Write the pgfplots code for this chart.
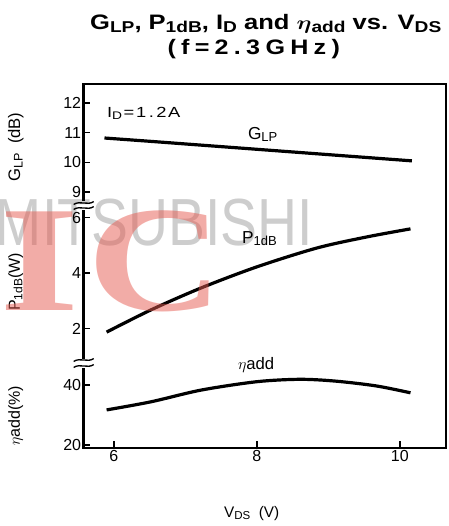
\documentclass[border=0pt]{standalone}
\usepackage{fontspec}
\setmainfont{Liberation Sans}
\newfontfamily\wmserif{Liberation Serif}
\usepackage{graphicx}
\usepackage{pgfplots}
\pgfplotsset{compat=1.18}
\newcommand{\sub}[1]{\raisebox{-0.3ex}{\scalebox{0.75}{#1}}}
\definecolor{wmgray}{RGB}{205,205,205}
\definecolor{wmpink}{RGB}{230,90,80}

\pgfplotsset{
  brk/.style={
    scale only axis, width=271.5pt,
    xmin=5.58, xmax=10.643,
    axis line style={draw=none},
    tick align=inside,
    major tick length=5pt,
    every tick/.style={black, line width=1.2pt},
    ytick pos=left, xtick pos=bottom,
    tick label style={font=\fontsize{12}{14}\selectfont, inner sep=1.8pt},
    /pgf/number format/assume math mode=true,
  },
  crv/.style={black, line width=2.4pt, smooth, mark=none},
}

\begin{document}
\begin{tikzpicture}
\begin{scope}[x=0.75pt, y=-0.75pt]
  \path[use as bounding box] (0,0) rectangle (448,526);
  \node[anchor=base west, inner sep=0, text=wmgray, font=\fontsize{50}{50}\selectfont]
    at (-5,245) {\scalebox{0.83}[1]{MITSUBISHI}};
  % frame as filled bars, left side broken
  \fill[black] (82,83) rectangle (446,85);
  \fill[black] (444,83) rectangle (446,449);
  \fill[black] (81.5,446.5) rectangle (446,449);
  \fill[black] (81.5,83) rectangle (84.5,201);
  \fill[black] (81.5,210) rectangle (84.5,359);
  \fill[black] (81.5,368) rectangle (84.5,449);
\end{scope}

% G_LP (dB)
\begin{axis}[brk, at={(62.25pt,-63pt)}, anchor=north west, height=90.75pt,
  ymin=8.562, ymax=12.64, ytick={9,10,11,12}, xtick=\empty]
\addplot[crv] coordinates {(5.87,10.82) (6.5,10.71) (7.0,10.62) (7.5,10.53) (8.0,10.44)
  (8.5,10.35) (9.0,10.26) (9.5,10.17) (10.17,10.05)};
\end{axis}

% P1dB (W)
\begin{axis}[brk, at={(62.25pt,-153.75pt)}, anchor=north west, height=119.25pt,
  ymin=0.721, ymax=6.45, ytick={2,4,6}, xtick=\empty]
\addplot[crv] coordinates {(5.9,1.87) (6.52,2.67) (7.22,3.46) (8.0,4.22) (8.84,4.90)
  (9.54,5.30) (10.15,5.59)};
\end{axis}

% eta add (%)
\begin{axis}[brk, at={(62.25pt,-273pt)}, anchor=north west, height=63pt,
  ymin=19, ymax=47, ytick={20,40}, xtick={6,8,10}]
\addplot[crv] coordinates {(5.9,31.7) (6.52,34.4) (7.22,38.3) (8.0,41.1) (8.6,41.9)
  (9.1,41.3) (9.67,39.7) (10.15,37.4)};
\end{axis}

\begin{scope}[x=0.75pt, y=-0.75pt]
  % break marks
  \draw[black, line width=1pt] (73,204.5) .. controls (79,200) and (87,206) .. (93,201.5);
  \draw[black, line width=1pt] (73,209.5) .. controls (79,205) and (87,211) .. (93,206.5);
  \draw[black, line width=1pt] (73,361.5) .. controls (79,357) and (87,363) .. (93,358.5);
  \draw[black, line width=1pt] (73,367.5) .. controls (79,363) and (87,369) .. (93,364.5);
  % texts
  \node[anchor=base, inner sep=0, font=\bfseries\fontsize{15.7}{18}\selectfont]
    at (265,29) {\scalebox{1.22}[1]{G\sub{LP}, P\sub{1dB}, I\sub{D} and {\boldmath$\eta$}\sub{add} vs. V\sub{DS}}};
  \node[anchor=base, inner sep=0, font=\bfseries\fontsize{15.7}{18}\selectfont]
    at (253,54) {\scalebox{1.2}[1]{(\kern3.3pt f\kern3.3pt=\kern3.3pt 2\kern3.3pt.\kern3.3pt 3\kern3.3pt G\kern3.3pt H\kern3.3pt z\kern3.3pt)}};
  \node[anchor=base west, inner sep=0, font=\fontsize{11}{13}\selectfont]
    at (106,117) {\scalebox{1.25}[1]{I\sub{D}\kern1pt=\kern1pt1\kern1.5pt.\kern1.5pt2\kern1pt A}};
  \node[anchor=base west, inner sep=0, font=\fontsize{13}{15}\selectfont]
    at (247,139) {G\sub{LP}};
  \node[anchor=base west, inner sep=0, font=\fontsize{13}{15}\selectfont]
    at (241,243) {P\sub{1dB}};
  \node[anchor=base west, inner sep=0, font=\fontsize{12.5}{14}\selectfont]
    at (237,369) {$\eta$add};
  \node[rotate=90, inner sep=0, font=\fontsize{12.5}{14}\selectfont]
    at (15,147) {G\sub{LP}\ \ (dB)};
  \node[rotate=90, inner sep=0, font=\fontsize{12}{14}\selectfont]
    at (15,282) {P\sub{1dB}(W)};
  \node[rotate=90, inner sep=0, font=\fontsize{12}{14}\selectfont]
    at (15,416) {$\eta$add(\%)};
  \node[anchor=base, inner sep=0, font=\fontsize{11.5}{13}\selectfont]
    at (251,517) {V\sub{DS}\ \ (V)};

  % pink watermark
  \node[anchor=base west, inner sep=0, text=wmpink, text opacity=0.5,
    font=\wmserif\bfseries\fontsize{113}{113}\selectfont] at (-1,310) {\scalebox{1.37}[1]{I}};
  \node[anchor=base west, inner sep=0, text=wmpink, text opacity=0.5,
    font=\wmserif\bfseries\fontsize{113}{113}\selectfont] at (86,310) {\scalebox{1.25}[1]{C}};
\end{scope}
\end{tikzpicture}
\end{document}
